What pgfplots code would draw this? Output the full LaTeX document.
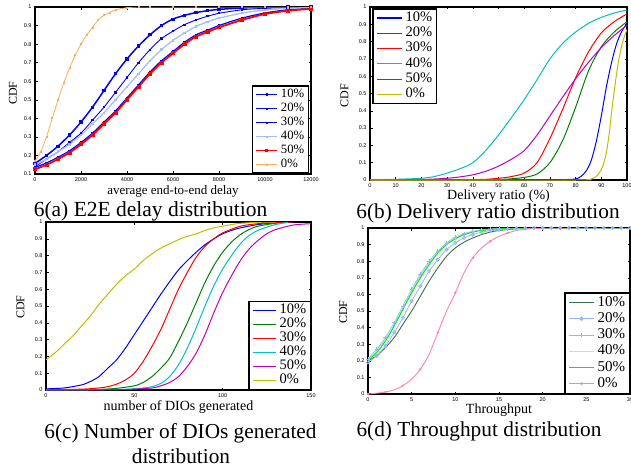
\documentclass[border=0pt]{standalone}
\usepackage{fontspec}
\setmainfont{Liberation Serif}
\newfontfamily\tsans{Liberation Sans}
\usepackage{pgfplots}
\pgfplotsset{compat=1.18}
\definecolor{mblue}{RGB}{0,0,255}
\definecolor{lblueA}{RGB}{165,190,250}
\definecolor{morange}{RGB}{255,170,90}
\definecolor{mgreen}{RGB}{0,128,0}
\definecolor{mcyan}{RGB}{0,191,191}
\definecolor{mmag}{RGB}{191,0,191}
\definecolor{myel}{RGB}{191,191,0}
\definecolor{dgreen}{RGB}{60,110,80}
\definecolor{lblueD}{RGB}{150,180,250}
\definecolor{vlblue}{RGB}{185,220,255}
\definecolor{bgreen}{RGB}{0,240,0}
\definecolor{mpink}{RGB}{255,130,170}
\pgfplotsset{
  every axis/.append style={
    scale only axis,
    axis line style={line width=1.4pt},
    tick style={line width=0.5pt,black},
    major tick length=2.5pt,
    tick align=inside,
    xtick pos=both, ytick pos=both,
    tick label style={font=\tsans\fontsize{5.5}{6}\selectfont},
    /pgf/number format/assume math mode=true,
    /pgf/number format/1000 sep={},
    scaled x ticks=false, scaled y ticks=false,
    legend cell align=left,
    legend style={draw=black,line width=1.5pt,fill=white,inner xsep=3.5pt,inner ysep=1.5pt,
      /tikz/every odd column/.append style={column sep=2.5pt}},
    every axis plot/.append style={smooth},
  },
}
\begin{document}
\begin{tikzpicture}
\useasboundingbox (0,0) rectangle (631pt,472pt);

% ---------------- (a)
\begin{axis}[at={(35pt,298pt)},anchor=south west,width=276pt,height=167pt,
  xmin=0,xmax=12000,ymin=0.1,ymax=1,
  xtick={0,2000,4000,6000,8000,10000,12000},
  ytick={0.1,0.2,0.3,0.4,0.5,0.6,0.7,0.8,0.9,1},
  xlabel={average end-to-end delay},ylabel={CDF},
  xlabel style={at={(axis description cs:0.5,-0.102)},anchor=center,font=\fontsize{13}{15}\selectfont},
  ylabel style={at={(axis description cs:-0.08,0.485)},anchor=center,font=\fontsize{12}{14}\selectfont},
  legend style={at={(0.993,0)},anchor=south east,font=\fontsize{12.7}{14}\selectfont,
    nodes={inner sep=0.6pt,text height=9.6pt,text depth=3.2pt}},
  legend image code/.code={\draw[line width=1pt,mark repeat=2,mark phase=2,#1] plot coordinates {(0pt,0pt) (10.5pt,0pt) (21pt,0pt)};},
]
\addplot[mblue,line width=1.5pt,mark=square*,mark size=0.8pt] coordinates {
(0,0.157)(500,0.20)(1000,0.25)(1500,0.31)(2000,0.38)(2500,0.46)(3000,0.55)(3500,0.64)(4000,0.72)(4500,0.79)(5000,0.85)(5500,0.90)(6000,0.935)(6500,0.955)(7000,0.97)(7500,0.98)(8000,0.987)(9000,0.995)(10000,0.998)(11000,1)(12000,1)};
\addlegendentry{10\%}
\addplot[mblue,line width=0.9pt,mark=square*,mark size=0.6pt] coordinates {
(0,0.14)(500,0.18)(1000,0.22)(1500,0.27)(2000,0.32)(2500,0.39)(3000,0.46)(3500,0.54)(4000,0.62)(4500,0.70)(5000,0.77)(5500,0.83)(6000,0.87)(6500,0.905)(7000,0.93)(7500,0.95)(8000,0.966)(9000,0.985)(10000,0.993)(11000,0.997)(12000,0.999)};
\addlegendentry{20\%}
\addplot[mblue,line width=1.2pt,mark=square*,mark size=0.7pt] coordinates {
(0,0.135)(500,0.16)(1000,0.19)(1500,0.225)(2000,0.27)(2500,0.32)(3000,0.38)(3500,0.44)(4000,0.51)(4500,0.58)(5000,0.65)(5500,0.71)(6000,0.76)(6500,0.81)(7000,0.85)(7500,0.875)(8000,0.90)(9000,0.94)(10000,0.968)(11000,0.985)(12000,0.993)};
\addlegendentry{30\%}
\addplot[lblueA,line width=1.3pt,mark=square*,mark size=0.6pt] coordinates {
(0,0.15)(500,0.18)(1000,0.22)(1500,0.26)(2000,0.31)(2500,0.37)(3000,0.43)(3500,0.50)(4000,0.57)(4500,0.64)(5000,0.71)(5500,0.77)(6000,0.82)(6500,0.86)(7000,0.895)(7500,0.92)(8000,0.94)(9000,0.967)(10000,0.984)(11000,0.993)(12000,0.997)};
\addlegendentry{40\%}
\addplot[red,line width=1.8pt,mark=square*,mark size=1.1pt] coordinates {
(0,0.125)(500,0.15)(1000,0.18)(1500,0.215)(2000,0.26)(2500,0.31)(3000,0.37)(3500,0.43)(4000,0.50)(4500,0.57)(5000,0.64)(5500,0.70)(6000,0.75)(6500,0.80)(7000,0.84)(7500,0.865)(8000,0.89)(9000,0.93)(10000,0.962)(11000,0.98)(12000,0.99)};
\addlegendentry{50\%}
\addplot[morange,line width=0.8pt,mark=square*,mark size=0.5pt] coordinates {
(0,0.17)(250,0.22)(500,0.30)(750,0.40)(1000,0.50)(1250,0.59)(1500,0.67)(1750,0.74)(2000,0.80)(2250,0.85)(2500,0.89)(2750,0.93)(3000,0.955)(3250,0.97)(3500,0.985)(4000,0.996)(4500,1)(5000,1)(6000,1)(7000,1)(8000,1)(9000,1)(10000,1)(11000,1)(12000,1)};
\addlegendentry{0\%}
\end{axis}

% ---------------- (b)
\begin{axis}[at={(370pt,292pt)},anchor=south west,width=257pt,height=173pt,
  xmin=0,xmax=100,ymin=0,ymax=1,
  xtick={0,10,20,30,40,50,60,70,80,90,100},
  ytick={0,0.1,0.2,0.3,0.4,0.5,0.6,0.7,0.8,0.9,1},
  xlabel={Delivery ratio (\%)},ylabel={CDF},
  xlabel style={at={(axis description cs:0.5,-0.093)},anchor=center,font=\fontsize{14}{16}\selectfont},
  ylabel style={at={(axis description cs:-0.099,0.486)},anchor=center,font=\fontsize{12}{14}\selectfont},
  legend style={at={(0.008,0.994)},anchor=north west,font=\fontsize{14.5}{16}\selectfont,
    nodes={inner sep=0.6pt,text height=10.5pt,text depth=3.6pt}},
  legend image code/.code={\draw[#1,line width=1.2pt] plot coordinates {(0pt,0pt) (12.5pt,0pt) (25pt,0pt)};},
]
\addplot[mblue,line width=1pt] coordinates {
(0,0)(70,0.001)(75,0.002)(80,0.006)(82,0.02)(84,0.05)(86,0.11)(88,0.22)(90,0.37)(92,0.54)(94,0.68)(96,0.79)(98,0.86)(100,0.905)};
\addlegendentry{10\%}
\addplot[mgreen,line width=1pt] coordinates {
(0,0)(40,0.001)(50,0.003)(55,0.007)(60,0.015)(65,0.035)(70,0.10)(75,0.23)(80,0.42)(85,0.63)(90,0.77)(95,0.855)(100,0.915)};
\addlegendentry{20\%}
\addplot[red,line width=1pt] coordinates {
(0,0)(40,0.002)(50,0.01)(55,0.02)(60,0.04)(65,0.10)(70,0.24)(75,0.41)(80,0.59)(85,0.74)(90,0.85)(95,0.915)(100,0.96)};
\addlegendentry{30\%}
\addplot[mcyan,line width=1pt] coordinates {
(0,0.002)(10,0.004)(20,0.01)(25,0.02)(30,0.04)(35,0.065)(40,0.10)(45,0.17)(50,0.26)(55,0.36)(60,0.465)(65,0.58)(70,0.70)(75,0.79)(80,0.855)(85,0.905)(90,0.94)(95,0.965)(100,0.983)};
\addlegendentry{40\%}
\addplot[mmag,line width=1pt] coordinates {
(0,0)(20,0.003)(30,0.01)(35,0.018)(40,0.03)(45,0.05)(50,0.08)(55,0.12)(60,0.17)(65,0.26)(70,0.37)(75,0.48)(80,0.585)(85,0.68)(90,0.765)(95,0.835)(100,0.895)};
\addlegendentry{50\%}
\addplot[myel,line width=1pt] coordinates {
(0,0)(80,0.0)(84,0.001)(86,0.005)(88,0.02)(90,0.06)(91,0.10)(92,0.16)(93,0.26)(94,0.39)(95,0.51)(96,0.62)(97,0.71)(98,0.78)(99,0.83)(100,0.87)};
\addlegendentry{0\%}
\end{axis}

% ---------------- (c)
\begin{axis}[at={(46pt,82pt)},anchor=south west,width=265pt,height=168pt,
  xmin=0,xmax=150,ymin=0,ymax=1,
  xtick={0,50,100,150},
  ytick={0,0.1,0.2,0.3,0.4,0.5,0.6,0.7,0.8,0.9,1},
  xlabel={number of DIOs generated},ylabel={CDF},
  xlabel style={at={(axis description cs:0.5,-0.101)},anchor=center,font=\fontsize{14}{16}\selectfont},
  ylabel style={at={(axis description cs:-0.096,0.494)},anchor=center,font=\fontsize{12}{14}\selectfont},
  legend style={at={(1,0)},anchor=south east,font=\fontsize{14.5}{16}\selectfont,
    nodes={inner sep=0.6pt,text height=9.7pt,text depth=3.2pt}},
  legend image code/.code={\draw[#1,line width=1.2pt] plot coordinates {(0pt,0pt) (11.5pt,0pt) (23pt,0pt)};},
]
\addplot[mblue,line width=1pt] coordinates {
(0,0.007)(10,0.012)(20,0.03)(25,0.05)(30,0.08)(35,0.13)(40,0.18)(45,0.25)(50,0.33)(55,0.41)(60,0.49)(65,0.57)(70,0.645)(75,0.715)(80,0.77)(85,0.82)(90,0.865)(95,0.90)(100,0.93)(105,0.95)(110,0.965)(120,0.985)(130,0.995)(140,1)};
\addlegendentry{10\%}
\addplot[mgreen,line width=1pt] coordinates {
(0,0)(30,0.004)(40,0.01)(50,0.025)(55,0.045)(60,0.08)(65,0.13)(70,0.19)(75,0.29)(80,0.40)(85,0.52)(90,0.64)(95,0.74)(100,0.82)(105,0.88)(110,0.925)(115,0.955)(120,0.975)(130,0.993)(137,1)};
\addlegendentry{20\%}
\addplot[red,line width=1pt] coordinates {
(0,0.002)(20,0.005)(30,0.012)(35,0.02)(40,0.035)(45,0.06)(50,0.10)(55,0.17)(60,0.26)(65,0.36)(70,0.48)(75,0.60)(80,0.70)(85,0.79)(90,0.855)(95,0.90)(100,0.935)(110,0.975)(120,0.99)(130,0.998)(140,1)};
\addlegendentry{30\%}
\addplot[mcyan,line width=1pt] coordinates {
(0,0)(40,0.003)(50,0.008)(55,0.012)(60,0.02)(65,0.04)(70,0.08)(75,0.15)(80,0.25)(85,0.37)(90,0.50)(95,0.62)(100,0.72)(105,0.80)(110,0.87)(115,0.92)(120,0.95)(125,0.97)(130,0.985)(137,0.998)};
\addlegendentry{40\%}
\addplot[mmag,line width=1pt] coordinates {
(0,0)(40,0.002)(50,0.005)(60,0.012)(65,0.025)(70,0.045)(75,0.08)(80,0.14)(85,0.22)(90,0.33)(95,0.46)(100,0.58)(105,0.68)(110,0.77)(115,0.84)(120,0.89)(125,0.93)(130,0.955)(140,0.982)(150,0.99)};
\addlegendentry{50\%}
\addplot[myel,line width=1pt] coordinates {
(0,0.18)(5,0.22)(10,0.27)(15,0.32)(20,0.38)(25,0.44)(30,0.51)(35,0.57)(40,0.63)(45,0.68)(50,0.72)(55,0.77)(60,0.81)(65,0.845)(70,0.87)(75,0.895)(80,0.915)(85,0.93)(90,0.95)(95,0.965)(100,0.975)(105,0.985)(110,0.992)(120,0.998)(130,1)};
\addlegendentry{0\%}
\end{axis}

% ---------------- (d)
\begin{axis}[at={(368pt,78pt)},anchor=south west,width=262pt,height=166pt,
  xmin=0,xmax=30,ymin=0,ymax=1,
  xtick={0,5,10,15,20,25,30},
  ytick={0,0.1,0.2,0.3,0.4,0.5,0.6,0.7,0.8,0.9,1},
  xlabel={Throughput},ylabel={CDF},
  xlabel style={at={(axis description cs:0.5,-0.096)},anchor=center,font=\fontsize{14}{16}\selectfont},
  ylabel style={at={(axis description cs:-0.095,0.494)},anchor=center,font=\fontsize{12}{14}\selectfont},
  legend style={at={(1,0)},anchor=south east,font=\fontsize{15}{17}\selectfont,
    nodes={inner sep=0.6pt,text height=11.2pt,text depth=3.8pt}},
  legend image code/.code={\draw[mark repeat=2,mark phase=2,#1,line width=1.1pt] plot coordinates {(0pt,0pt) (12.5pt,0pt) (25pt,0pt)};},
]
\addplot[dgreen,line width=0.9pt] coordinates {
(0,0.20)(1,0.23)(2,0.28)(3,0.34)(4,0.42)(5,0.50)(6,0.59)(7,0.68)(8,0.76)(9,0.83)(10,0.88)(11,0.915)(12,0.94)(13,0.96)(14,0.975)(15,0.985)(17,0.995)(20,1)(30,1)};
\addlegendentry{10\%}
\addplot[lblueD,line width=0.8pt,mark=o,mark size=1.6pt] coordinates {
(0,0.19)(1,0.23)(2,0.29)(3,0.37)(4,0.46)(5,0.56)(6,0.65)(7,0.74)(8,0.81)(9,0.87)(10,0.91)(11,0.94)(12,0.96)(13,0.975)(14,0.984)(15,0.99)(16,0.994)(17,0.997)(18,0.998)(19,1)(20,1)(21,1)(22,1)(23,1)(24,1)(25,1)(26,1)(27,1)(28,1)(29,1)(30,1)};
\addlegendentry{20\%}
\addplot[lblueD,line width=0.8pt,mark=+,mark size=2pt] coordinates {
(0,0.21)(1,0.27)(2,0.34)(3,0.43)(4,0.53)(5,0.63)(6,0.72)(7,0.80)(8,0.86)(9,0.91)(10,0.945)(11,0.965)(12,0.98)(13,0.99)(14,0.994)(15,0.997)(16,0.999)(17,1)(18,1)(19,1)(20,1)(21,1)(22,1)(23,1)(24,1)(25,1)(26,1)(27,1)(28,1)(29,1)(30,1)};
\addlegendentry{30\%}
\addplot[vlblue,line width=1pt] coordinates {
(0,0.20)(1,0.26)(2,0.33)(3,0.42)(4,0.52)(5,0.62)(6,0.71)(7,0.79)(8,0.855)(9,0.905)(10,0.94)(11,0.962)(12,0.977)(13,0.987)(15,0.996)(18,1)(30,1)};
\addlegendentry{40\%}
\addplot[bgreen,line width=1pt] coordinates {
(0,0.20)(1,0.25)(2,0.32)(3,0.41)(4,0.51)(5,0.61)(6,0.70)(7,0.78)(8,0.85)(9,0.90)(10,0.935)(11,0.96)(12,0.975)(13,0.985)(15,0.995)(18,1)(30,1)};
\addlegendentry{50\%}
\addplot[mpink,line width=0.9pt,mark=*,mark size=0.7pt,mark repeat=2] coordinates {
(0,0)(1,0.005)(2,0.012)(3,0.025)(4,0.05)(5,0.09)(6,0.15)(7,0.24)(8,0.37)(9,0.50)(10,0.61)(11,0.73)(12,0.82)(13,0.88)(14,0.92)(15,0.95)(16,0.97)(17,0.985)(18,0.993)(20,0.999)(22,1)(30,1)};
\addlegendentry{0\%}
\end{axis}

% captions
\node[anchor=base,font=\fontsize{21.5}{24}\selectfont] at (150.5pt,256pt) {6(a) E2E delay distribution};
\node[anchor=base,font=\fontsize{21.3}{24}\selectfont] at (488pt,254pt) {6(b) Delivery ratio distribution};
\node[anchor=base,font=\fontsize{21.3}{24}\selectfont] at (180.5pt,34pt) {6(c) Number of DIOs generated};
\node[anchor=base,font=\fontsize{21.3}{24}\selectfont] at (181pt,9pt) {distribution};
\node[anchor=base,font=\fontsize{21.3}{24}\selectfont] at (479pt,36pt) {6(d) Throughput distribution};
\end{tikzpicture}
\end{document}
